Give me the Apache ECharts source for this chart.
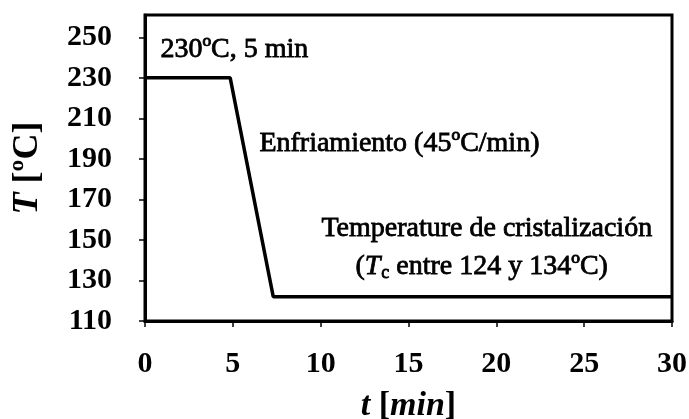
<!DOCTYPE html>
<html><head><meta charset="utf-8">
<script src="https://cdn.jsdelivr.net/npm/echarts@6/dist/echarts.min.js"></script>
<style>html,body{margin:0;padding:0;background:#fff}#c{width:689px;height:419px}</style>
</head><body><div id="c"></div>
<script>
const timeMin = [0, 4.85, 7.05, 7.3, 30];
const tempC = [230, 230, 133, 122, 122];
const xTicks = [0, 5, 10, 15, 20, 25, 30];
const yTicks = [110, 130, 150, 170, 190, 210, 230, 250];
const annotations = [
  "230ºC, 5 min",
  "Enfriamiento (45ºC/min)",
  "Temperature de cristalización",
  "(Tc entre 124 y 134ºC)"
];

const F = 'Liberation Serif';
const chart = echarts.init(document.getElementById('c'), null, {renderer: 'canvas'});
const data = timeMin.map((t, i) => [t, tempC[i]]);
const annStyle = {fontFamily: F, fontSize: 28, fill: '#000', stroke: '#000', lineWidth: 0.8};
chart.setOption({
  animation: false,
  grid: {left: 145, right: 17, top: 15, bottom: 98, outerBoundsMode: 'none', containLabel: false,
    show: true, borderColor: '#000', borderWidth: 3, backgroundColor: 'transparent'},
  xAxis: {
    type: 'value', min: xTicks[0], max: xTicks[xTicks.length - 1], interval: 5,
    splitLine: {show: false},
    axisLine: {lineStyle: {color: '#000', width: 3}},
    axisTick: {length: 6, lineStyle: {color: '#000', width: 1.5}},
    axisLabel: {fontFamily: F, fontWeight: 'bold', fontSize: 30, color: '#000', margin: 28},
    name: '{i|t }{b|[}{i|min}{b|]}', nameLocation: 'middle', nameGap: 68,
    nameTextStyle: {rich: {
      i: {fontFamily: F, fontWeight: 'bold', fontStyle: 'italic', fontSize: 34, color: '#000'},
      b: {fontFamily: F, fontWeight: 'bold', fontSize: 34, color: '#000'}
    }}
  },
  yAxis: {
    type: 'value', min: yTicks[0], max: 261, interval: 20,
    splitLine: {show: false},
    axisLine: {lineStyle: {color: '#000', width: 3}},
    axisTick: {length: 6, lineStyle: {color: '#000', width: 1.5}},
    axisLabel: {fontFamily: F, fontWeight: 'bold', fontSize: 30, color: '#000', margin: 33, showMaxLabel: false,
      formatter: v => yTicks.includes(v) ? String(v) : ''},
    name: '{i|T }{b|[ºC]}', nameLocation: 'middle', nameGap: 99, nameRotate: 90,
    nameTextStyle: {rich: {
      i: {fontFamily: F, fontWeight: 'bold', fontStyle: 'italic', fontSize: 36, color: '#000'},
      b: {fontFamily: F, fontWeight: 'bold', fontSize: 36, color: '#000'}
    }}
  },
  series: [{
    type: 'line', data: data, symbol: 'none',
    lineStyle: {color: '#000', width: 3.5}
  }],
  graphic: [
    {type: 'text', left: 160, top: 35, style: Object.assign({text: annotations[0]}, annStyle)},
    {type: 'text', left: 259, top: 129, style: Object.assign({text: annotations[1]}, annStyle)},
    {type: 'text', left: 321, top: 214, style: Object.assign({text: annotations[2]}, annStyle)},
    {type: 'text', left: 355, top: 252, style: {
      text: '{n|(}{i|T}{s|c}{n| entre 124 y 134ºC)}',
      rich: {
        n: annStyle,
        i: Object.assign({}, annStyle, {fontStyle: 'italic'}),
        s: Object.assign({}, annStyle, {fontSize: 18, padding: [14, 0, 0, 1]})
      }}}
  ]
});
</script></body></html>
